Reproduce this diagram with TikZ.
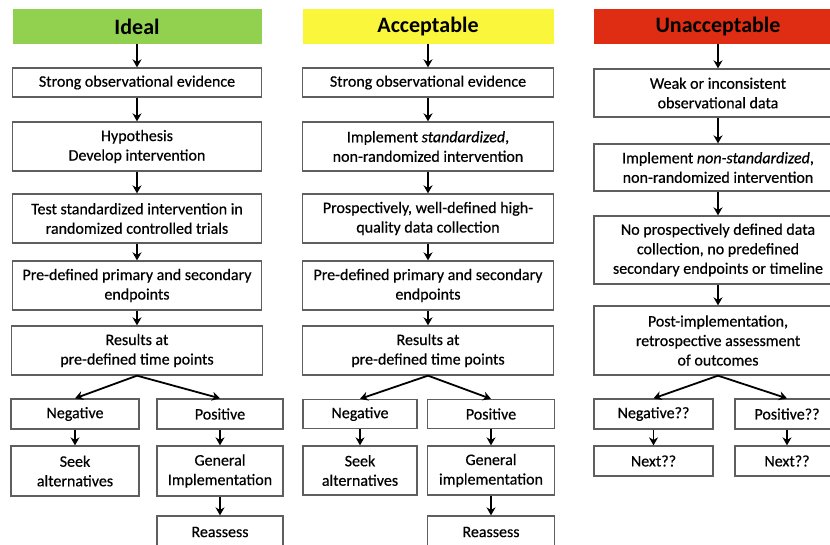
\documentclass[tikz,border=0pt]{standalone}
\usepackage{fontspec}
\setmainfont{Carlito}
\newfontfamily\boxfont[FakeBold=0.5]{Carlito}
\usetikzlibrary{arrows.meta}

\definecolor{hdgreen}{RGB}{146, 208, 80}
\definecolor{hdyellow}{RGB}{250, 246, 60}
\definecolor{hdred}{RGB}{222, 45, 18}
\definecolor{boxgray}{RGB}{95, 95, 95}
\tikzset{box/.style={draw=boxgray, line width=1.3pt, fill=white, align=center, inner sep=0pt,
        font=\boxfont\fontsize{16}{19.5}\selectfont}}
\tikzset{head/.style={inner sep=0pt, minimum height=35pt, font=\fontsize{22}{24}\selectfont\bfseries}}
\tikzset{arr/.style={-{Stealth[length=8pt, width=9pt]}, line width=1.8pt, black}}

\begin{document}
\begin{tikzpicture}[x=1pt, y=-1pt]
        \clip (0,0) rectangle (830,544);
        \fill[white] (0,0) rectangle (830,544);

        % ideal
        \node[head, fill=hdgreen, minimum width=249pt] (H1) at (137, 26.5) {Ideal};
        \node[box, minimum width=249pt, minimum height=29pt] (I1) at (137, 82.5) {Strong observational evidence};
        \node[box, minimum width=249pt, minimum height=49pt] (I2) at (137, 146.5) {Hypothesis\\Develop intervention};
        \node[box, minimum width=249pt, minimum height=49pt] (I3) at (137, 218.5) {Test standardized intervention in\\randomized controlled trials};
        \node[box, minimum width=249pt, minimum height=49pt] (I4) at (137, 285.5) {Pre-defined primary and secondary\\endpoints};
        \node[box, minimum width=251pt, minimum height=49pt] (I5) at (137, 350.5) {Results at\\pre-defined time points};
        \node[box, minimum width=128pt, minimum height=30pt] (I6) at (75, 414) {Negative};
        \node[box, minimum width=126pt, minimum height=30pt] (I7) at (220, 414) {Positive};
        \node[box, minimum width=128pt, minimum height=50pt] (I8) at (75, 471) {Seek\\alternatives};
        \node[box, minimum width=126pt, minimum height=50pt] (I9) at (220, 471) {General\\Implementation};
        \node[box, minimum width=126pt, minimum height=32pt] (I10) at (220, 532) {Reassess};

        \draw [arr] (H1) -- (I1);
        \draw [arr] (I1) -- (I2);
        \draw [arr] (I2) -- (I3);
        \draw [arr] (I3) -- (I4);
        \draw [arr] (I4) -- (I5);
        \draw [arr] (I5.south) -- (I6.north);
        \draw [arr] (I5.south) -- (I7.north);
        \draw [arr] (I6) -- (I8);
        \draw [arr] (I7) -- (I9);
        \draw [arr] (I9) -- (I10);

        % acceptable
        \node[head, fill=hdyellow, minimum width=251pt] (H2) at (428, 26.5) {Acceptable};
        \node[box, minimum width=251pt, minimum height=29pt] (A1) at (428, 82.5) {Strong observational evidence};
        \node[box, minimum width=251pt, minimum height=49pt] (A2) at (428, 146.5) {Implement \textit{standardized},\\non-randomized intervention};
        \node[box, minimum width=251pt, minimum height=49pt] (A3) at (428, 218.5) {Prospectively, well-defined high-\\quality data collection};
        \node[box, minimum width=251pt, minimum height=49pt] (A4) at (428, 285.5) {Pre-defined primary and secondary\\endpoints};
        \node[box, minimum width=251pt, minimum height=49pt] (A5) at (428, 350.5) {Results at\\pre-defined time points};
        \node[box, minimum width=114pt, minimum height=29pt] (A6) at (360, 414) {Negative};
        \node[box, minimum width=127pt, minimum height=29pt] (A7) at (491, 414) {Positive};
        \node[box, minimum width=114pt, minimum height=49pt] (A8) at (360, 470.5) {Seek\\alternatives};
        \node[box, minimum width=127pt, minimum height=49pt] (A9) at (491, 470.5) {General\\implementation};
        \node[box, minimum width=127pt, minimum height=32pt] (A10) at (491, 532) {Reassess};

        \draw [arr] (H2) -- (A1);
        \draw [arr] (A1) -- (A2);
        \draw [arr] (A2) -- (A3);
        \draw [arr] (A3) -- (A4);
        \draw [arr] (A4) -- (A5);
        \draw [arr] (A5.south) -- (A6.north);
        \draw [arr] (A5.south) -- (A7.north);
        \draw [arr] (A6) -- (A8);
        \draw [arr] (A7) -- (A9);
        \draw [arr] (A9) -- (A10);

        % unacceptable
        \node[head, fill=hdred, minimum width=248pt] (H3) at (718, 26.5) {Unacceptable};
        \node[box, minimum width=248pt, minimum height=48pt] (U1) at (718, 93) {Weak or inconsistent\\observational data};
        \node[box, minimum width=248pt, minimum height=47pt] (U2) at (718, 167.5) {Implement \textit{non-standardized},\\non-randomized intervention};
        \node[box, minimum width=248pt, minimum height=68pt] (U3) at (718, 250) {No prospectively defined data\\collection, no predefined\\secondary endpoints or timeline};
        \node[box, minimum width=248pt, minimum height=69pt] (U4) at (718, 340.5) {Post-implementation,\\retrospective assessment\\of outcomes};
        \node[box, minimum width=119pt, minimum height=30pt] (U5) at (653.5, 414) {Negative??};
        \node[box, minimum width=104pt, minimum height=30pt] (U6) at (787, 414) {Positive??};
        \node[box, minimum width=119pt, minimum height=30pt] (U7) at (653.5, 461) {Next??};
        \node[box, minimum width=104pt, minimum height=30pt] (U8) at (787, 461) {Next??};

        \draw [arr] (H3) -- (U1);
        \draw [arr] (U1) -- (U2);
        \draw [arr] (U2) -- (U3);
        \draw [arr] (U3) -- (U4);
        \draw [arr] (U4.south) -- (U5.north);
        \draw [arr] (U4.south) -- (U6.north);
        \draw [arr] (U5) -- (U7);
        \draw [arr] (U6) -- (U8);

    \end{tikzpicture}
\end{document}
